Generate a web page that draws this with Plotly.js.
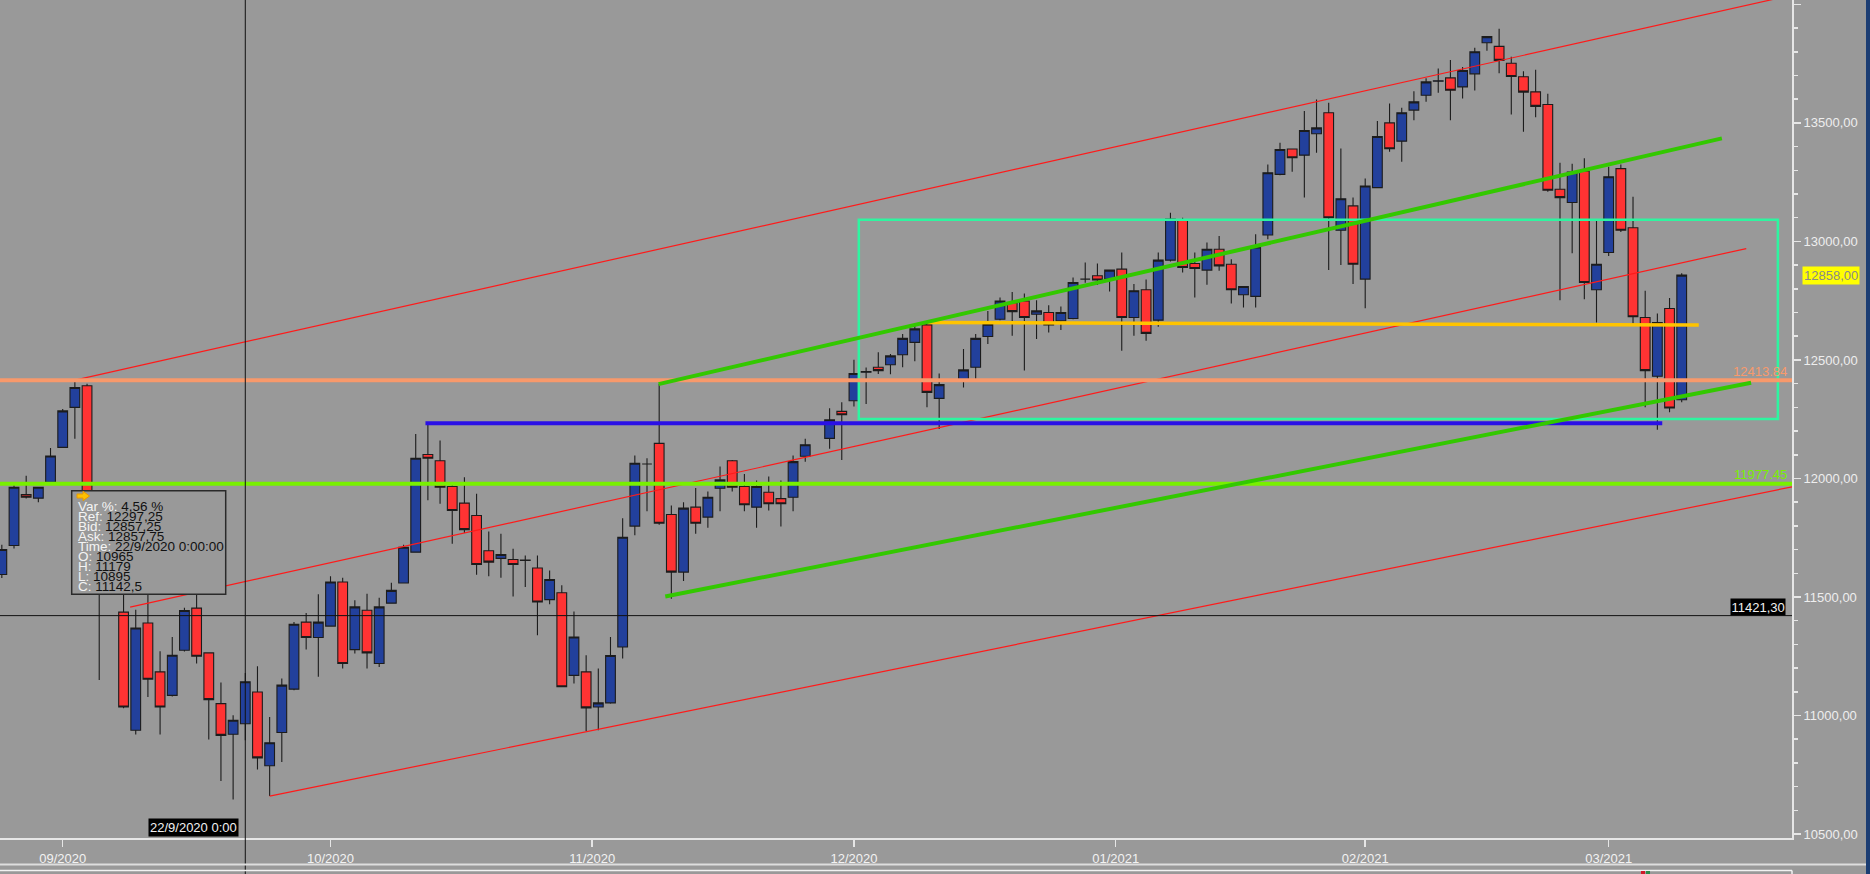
<!DOCTYPE html>
<html><head><meta charset="utf-8">
<script src="https://cdn.plot.ly/plotly-3.0.1.min.js"></script>
<style>html,body{margin:0;padding:0;background:#999999;overflow:hidden}#chart{width:1870px;height:874px}</style>
</head><body><div id="chart"></div>
<script>
// ---- daily bars (one slot per session; null = empty slot) ----
const dates = ['2020-08-25','2020-08-26','2020-08-27','2020-08-28','2020-08-31',
'2020-09-01','2020-09-02','2020-09-03','2020-09-04','2020-09-07','2020-09-08','2020-09-09','2020-09-10','2020-09-11',
'2020-09-14','2020-09-15','2020-09-16','2020-09-17','2020-09-18','2020-09-21','2020-09-22','2020-09-23','2020-09-24','2020-09-25',
'2020-09-28','2020-09-29','2020-09-30','2020-10-01','2020-10-02','2020-10-05','2020-10-06','2020-10-07','2020-10-08','2020-10-09',
'2020-10-12','2020-10-13','2020-10-14','2020-10-15','2020-10-16','2020-10-19','2020-10-20','2020-10-21','2020-10-22','2020-10-23',
'2020-10-26','2020-10-27','2020-10-28','2020-10-29','2020-10-30','2020-11-02','2020-11-03','2020-11-04','2020-11-05','2020-11-06',
'2020-11-09','2020-11-10','2020-11-11','2020-11-12','2020-11-13','2020-11-16','2020-11-17','2020-11-18','2020-11-19','2020-11-20',
'2020-11-23','2020-11-24','2020-11-25','2020-11-26','2020-11-27','2020-11-30','2020-12-01','2020-12-02','2020-12-03','2020-12-04',
'2020-12-07','2020-12-08','2020-12-09','2020-12-10','2020-12-11','2020-12-14','2020-12-15','2020-12-16','2020-12-17','2020-12-18',
'2020-12-21','2020-12-22','2020-12-23','2020-12-24','2020-12-28','2020-12-29','2020-12-30','2020-12-31',
'2021-01-04','2021-01-05','2021-01-06','2021-01-07','2021-01-08','2021-01-11','2021-01-12','2021-01-13','2021-01-14','2021-01-15',
'2021-01-18','2021-01-19','2021-01-20','2021-01-21','2021-01-22','2021-01-25','2021-01-26','2021-01-27','2021-01-28','2021-01-29',
'2021-02-01','2021-02-02','2021-02-03','2021-02-04','2021-02-05','2021-02-08','2021-02-09','2021-02-10','2021-02-11','2021-02-12',
'2021-02-15','2021-02-16','2021-02-17','2021-02-18','2021-02-19','2021-02-22','2021-02-23','2021-02-24','2021-02-25','2021-02-26',
'2021-03-01','2021-03-02','2021-03-03','2021-03-04','2021-03-05','2021-03-08','2021-03-09'];

const openP = [11595,11717,11932,11917,11984,
12131,12300,12391,11800,11620,11436,10938,11390,11184,
11085,11275,11453,11264,11050,10921,10965,11099,10788,10928,
11111,11394,11329,11377,11563,11278,11444,11219,11474,11559,
11689,12101,12075,11966,11896,11844,11695,11663,11658,11654,
11622,11489,11518,11169,11184,11036,11053,11289,11799,12061,
12148,11848,11605,11879,11837,11959,12075,11966,11879,11942,
11915,11921,12094,null,12169,12283,12328,12448,12469,12480,
12522,12574,12648,12338,null,12415,12469,12599,12672,12742,
12749,12693,12700,12665,12675,12841,12855,12841,
12883,12679,12796,12668,12921,13089,12907,12879,12967,12904,
12775,12768,13027,13283,13390,13364,13454,13543,13047,13150,
12841,13227,13500,13423,13554,13617,13676,13690,13652,13707,
13838,13823,13752,13695,13631,13578,13220,13164,13297,12796,
12953,13307,13058,12679,12431,12717,12332];

const highP = [11720,11975,12011,11965,12129,
12293,12415,12400,11900,11680,11560,11446,11540,11271,
11331,11455,11530,11266,11139,11001,11179,11208,10994,11156,
11394,11432,11511,11587,11581,11486,11514,11497,11560,11720,
12188,12232,12160,11975,12005,11935,11776,11767,11703,11675,
11675,11612,11549,11439,11254,11198,11331,11832,12097,12085,
12398,11886,11900,11960,11945,12050,12078,12019,11991,12008,
11991,12097,12167,null,12296,12321,12501,12468,12532,12525,
12609,12651,12658,12443,null,12546,12609,12707,12763,12787,
12780,12752,12731,12725,12848,12911,12907,12880,
12953,12820,12839,12953,13121,13100,12953,12995,13023,12925,
12812,13030,13325,13416,13392,13550,13599,13585,13392,13185,
13266,13508,13582,13564,13634,13688,13730,13765,13736,13817,
13866,13897,13779,13718,13724,13623,13332,13328,13351,13086,
13315,13325,13188,12792,12696,12761,12866];

const lowP = [11580,11705,11915,11900,11978,
12128,12167,11740,11150,11540,11030,10920,11078,10920,
11080,11270,11219,10899,10724,10646,10895,10772,10660,10804,
11106,11278,11163,11375,11198,11261,11198,11205,11472,11557,
11687,11908,11893,11725,11770,11594,11587,11581,11502,11542,
11338,11469,11120,11135,10935,10938,11050,11240,11760,11862,
11805,11493,11567,11767,11792,11862,11945,11862,11792,11865,
11797,11862,12071,null,12125,12078,12304,12314,12441,12440,
12469,12494,12300,12209,null,12384,12420,12567,12668,12602,
12455,12588,12616,12626,12672,12826,12816,12789,
12539,12602,12581,12640,12915,12869,12763,12817,12876,12738,
12721,12721,13009,13279,13294,13185,13374,12879,12901,12820,
12718,13225,13378,13336,13511,13589,13627,13511,13603,13637,
13805,13710,13536,13463,13524,13210,12752,12950,12756,12658,
12939,13040,12651,12300,12205,12279,12321];

const closeP = [11700,11963,11921,11963,12095,
12285,12384,11790,11620,11560,11036,11369,11153,11036,
11254,11443,11250,11067,10916,10980,11142.5,10821,10885,11128,
11385,11329,11394,11563,11219,11458,11264,11458,11528,11710,
12085,12085,11963,11865,11784,11637,11647,11679,11637,11656,
11479,11574,11121,11331,11032,11053,11253,11752,12064,12061,
11811,11605,11875,11811,11921,11994,11963,11889,11966,11893,
11893,12071,12142,null,12247,12269,12443,12451,12455,12517,
12591,12631,12363,12396,null,12458,12591,12651,12749,12704,
12679,12707,12648,12700,12827,12841,12837,12879,
12679,12792,12612,12921,13094,12890,12886,12967,12897,12796,
12810,12977,13290,13388,13353,13468,13479,13100,13180,12904,
13234,13443,13391,13543,13589,13673,13678,13638,13721,13800,
13864,13764,13696,13630,13570,13216,13185,13293,12827,12904,
13273,13047,12682,12455,12658,12297.25,12858];

const monthLabels = ['09/2020','10/2020','11/2020','12/2020','01/2021','02/2021','03/2021'];

// drawn studies (slot position, price)
const redChannel = [
  {x0: 6, y0: 12415, x1: 146, y1: 14027},
  {x0: 10.54, y0: 11457, x1: 143.3, y1: 12970},
  {x0: 22, y0: 10660, x1: 147.3, y1: 11967}
];
const greenLines = [
  {x0: 53.95, y0: 12398, x1: 141.3, y1: 13435},
  {x0: 54.5, y0: 11502, x1: 143.7, y1: 12404}
];
const blueLevel = {x0: 34.8, x1: 136.4, y: 12233};
const yellowLine = {x0: 76, y0: 12658, x1: 139.4, y1: 12647};
const boxZone = {x0: 70.4, x1: 145.9, y0: 12251, y1: 13091};
const levelPrices = [12413.84, 11977.45];
const levelTexts = ['12413.84', '11977.45'];
const levelColors = ['#f8996b', '#78f000'];
const crossPrice = 11421.30;
const crossPriceText = '11421,30';
const crossSlot = 20;
const crossDateText = '22/9/2020 0:00';
const lastPriceText = '12858,00';
const lastPrice = 12858;
const tipLabels = ['Var %:', 'Ref:', 'Bid:', 'Ask:', 'Time:', 'O:', 'H:', 'L:', 'C:'];
const tipValues = ['4,56 %', '12297,25', '12857,25', '12857,75', '22/9/2020 0:00:00', '10965', '11179', '10895', '11142,5'];

// ---- build ----
const slots = dates.map((d, i) => i);
const tickVals = monthLabels.map(lbl => {
  const mm = lbl.slice(0, 2), yy = lbl.slice(3);
  const i = dates.findIndex(d => d.slice(0, 4) === yy && d.slice(5, 7) === mm);
  const day = +dates[i].slice(8, 10);
  return day === 1 ? i : i - 0.5;
});

const W = 1792, H = 838;            // plot area in pixels
const XR = [-0.1507, 147.06], YR = [10483.1, 14018.6];
const px = x => x / W, py = y => 1 - y / H;
const yPix = p => (YR[1] - p) / (YR[1] - YR[0]) * H;
const xPix = s => (s - XR[0]) / (XR[1] - XR[0]) * W;

const FONT = 'Liberation Sans, Arial, sans-serif';
const shapes = [];
const line = (o, color, width) => shapes.push({type: 'line', xref: 'x', yref: 'y', x0: o.x0, y0: o.y0, x1: o.x1, y1: o.y1, line: {color, width}});

redChannel.forEach(l => line(l, '#ff1a1a', 1.2));
shapes.push({type: 'rect', xref: 'x', yref: 'y', x0: boxZone.x0, x1: boxZone.x1, y0: boxZone.y0, y1: boxZone.y1, line: {color: '#2ef5a0', width: 2.5}, fillcolor: 'rgba(0,0,0,0)'});
levelPrices.forEach((p, i) => line({x0: XR[0], x1: 147.2, y0: p, y1: p}, levelColors[i], 4));
line({x0: yellowLine.x0, x1: yellowLine.x1, y0: yellowLine.y0, y1: yellowLine.y1}, '#ffc400', 3.5);
line({x0: blueLevel.x0, x1: blueLevel.x1, y0: blueLevel.y, y1: blueLevel.y}, '#2a10e6', 4);
greenLines.forEach(l => line(l, '#33c800', 4));
line({x0: XR[0], x1: 147.2, y0: crossPrice, y1: crossPrice}, '#111111', 1);
// vertical crosshair (runs through the axis band)
shapes.push({type: 'line', xref: 'paper', yref: 'paper', x0: px(xPix(crossSlot)), x1: px(xPix(crossSlot)), y0: 1, y1: py(874), line: {color: '#111111', width: 1}});
// tooltip panel
shapes.push({type: 'rect', xref: 'paper', yref: 'paper', x0: px(71.7), x1: px(225.7), y0: py(490.7), y1: py(594.3), fillcolor: '#999999', line: {color: '#2a2a2a', width: 1.5}});
// tooltip arrow icon
const arrowPts = [[77,494],[83,494],[83,491.3],[89.5,496],[83,500.7],[83,498],[77,498]];
shapes.push({type: 'path', xref: 'paper', yref: 'paper', path: 'M' + arrowPts.map(p => px(p[0]) + ',' + py(p[1])).join('L') + 'Z', fillcolor: '#ffc000', line: {color: '#e89a00', width: 1}});
// lower frame / next panel borders, right strip
shapes.push({type: 'line', xref: 'paper', yref: 'paper', x0: 0, x1: px(1866), y0: py(864.5), y1: py(864.5), line: {color: '#dedede', width: 2}});
shapes.push({type: 'line', xref: 'paper', yref: 'paper', x0: 0, x1: px(1792), y0: py(870.5), y1: py(870.5), line: {color: '#f2f2f2', width: 1.5}});
shapes.push({type: 'line', xref: 'paper', yref: 'paper', x0: px(1792), x1: px(1792), y0: py(870.5), y1: py(874), line: {color: '#f2f2f2', width: 1.5}});
shapes.push({type: 'rect', xref: 'paper', yref: 'paper', x0: px(1641), x1: px(1645), y0: py(871), y1: py(874), fillcolor: '#d01828', line: {width: 0}});
shapes.push({type: 'rect', xref: 'paper', yref: 'paper', x0: px(1646), x1: px(1650), y0: py(871), y1: py(874), fillcolor: '#2a8a4a', line: {width: 0}});
shapes.push({type: 'rect', xref: 'paper', yref: 'paper', x0: px(1866), x1: px(1871), y0: py(-2), y1: py(876), fillcolor: '#1b3d73', line: {width: 0}});

const annotations = [];
levelPrices.forEach((p, i) => annotations.push({xref: 'paper', yref: 'paper', x: px(1789), y: py(yPix(p) - 9), xanchor: 'right', yanchor: 'middle', showarrow: false, text: levelTexts[i], font: {family: FONT, size: 13, color: levelColors[i]}}));
annotations.push({xref: 'paper', yref: 'paper', x: px(1786), y: py(yPix(crossPrice) - 8.5), xanchor: 'right', yanchor: 'middle', showarrow: false, text: crossPriceText, bgcolor: '#000000', borderpad: 0.5, font: {family: FONT, size: 13, color: '#f0f0f0'}});
annotations.push({xref: 'paper', yref: 'paper', x: px(xPix(crossSlot) - 6.5), y: py(827.5), xanchor: 'right', yanchor: 'middle', showarrow: false, text: crossDateText, bgcolor: '#000000', borderpad: 1, font: {family: FONT, size: 13, color: '#f0f0f0'}});
annotations.push({xref: 'paper', yref: 'paper', x: px(1802), y: py(yPix(lastPrice)), xanchor: 'left', yanchor: 'middle', showarrow: false, text: lastPriceText, bgcolor: '#ffff00', borderpad: 1, font: {family: FONT, size: 13, color: '#8a8a8a'}});
tipLabels.forEach((lbl, i) => annotations.push({xref: 'paper', yref: 'paper', x: px(75.5), y: py(506.7 + 10 * i), xanchor: 'left', yanchor: 'middle', showarrow: false,
  text: '<span style="color:#f4f4f4">' + lbl + '</span> ' + tipValues[i], font: {family: FONT, size: 13.5, color: '#111111'}}));

const trace = {
  type: 'candlestick', x: slots, open: openP, high: highP, low: lowP, close: closeP,
  increasing: {line: {color: '#1c1c1c', width: 1.1}, fillcolor: '#22409c'},
  decreasing: {line: {color: '#1c1c1c', width: 1.1}, fillcolor: '#ff3333'},
  whiskerwidth: 0, hoverinfo: 'skip', showlegend: false
};

const layout = {
  width: 1870, height: 874,
  margin: {l: 0, r: 78, t: 0, b: 36, pad: 0},
  paper_bgcolor: '#999999', plot_bgcolor: '#999999',
  separators: ',.',
  showlegend: false, hovermode: false, dragmode: false,
  boxgap: 0.2, boxgroupgap: 0,
  font: {family: FONT, size: 13, color: '#eeeeee'},
  xaxis: {type: 'linear', range: XR, rangeslider: {visible: false}, showgrid: false, zeroline: false,
    showline: true, linecolor: '#e6e6e6', linewidth: 2, ticks: 'outside', ticklen: 7, tickwidth: 1.5, tickcolor: '#e6e6e6',
    tickmode: 'array', tickvals: tickVals, ticktext: monthLabels, tickfont: {family: FONT, size: 13, color: '#f2f2f2'}},
  yaxis: {type: 'linear', range: YR, side: 'right', showgrid: false, zeroline: false,
    showline: true, linecolor: '#e6e6e6', linewidth: 2, ticks: 'outside', ticklen: 7, tickwidth: 1.5, tickcolor: '#e6e6e6',
    dtick: 500, tick0: 0, tickformat: '.2f', tickfont: {family: FONT, size: 13, color: '#eeeeee'},
    minor: {ticks: 'outside', ticklen: 4, tickwidth: 1.5, tickcolor: '#e6e6e6', dtick: 100, showgrid: false}},
  shapes, annotations
};

Plotly.newPlot('chart', [trace], layout, {staticPlot: true, displayModeBar: false});
</script></body></html>
